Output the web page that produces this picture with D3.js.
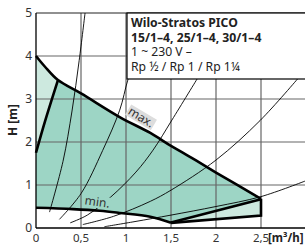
<!DOCTYPE html>
<html>
<head>
<meta charset="utf-8">
<script src="https://cdn.jsdelivr.net/npm/d3@7"></script>
<style>
  html, body { margin: 0; padding: 0; background: #fff; }
  svg { display: block; font-family: "Noto Sans", sans-serif; }
</style>
</head>
<body>
<div id="chart"></div>
<script>
// pump curve field, Q in m3/h, H in m
const qTicks = [0, 0.5, 1, 1.5, 2, 2.5];
const qLabels = ["0", "0,5", "1", "1,5", "2", "2,5"];
const hTicks = [0, 1, 2, 3, 4, 5];

const maxCurve = [[0, 4.0], [0.1, 3.75], [0.244, 3.44], [0.5, 3.13], [0.93, 2.58], [1.27, 2.21],
                  [1.5, 1.91], [1.73, 1.63], [2.0, 1.29], [2.5, 0.68]];
const outerBottom = [[2.5, 0.68], [2.5, 0.29], [1.5, 0.12]];
const minCurve = [[1.5, 0.12], [1.27, 0.26], [0.93, 0.35], [0.71, 0.4], [0.41, 0.44], [0, 0.47]];
const innerLeft = [[0, 1.75], [0.1, 2.48], [0.244, 3.44]];
const innerBottom = [[2.5, 0.67], [1.5, 0.13]];

// system curves (thin)
const sys1 = [[0.15, 0.37], [0.3, 1.55], [0.4, 2.72], [0.48, 3.9], [0.545, 5.0]];
const sys2 = [[0.26, 0.2], [0.5, 0.8], [0.74, 1.8], [0.93, 2.74], [1.02, 3.44], [1.1, 3.9]];
const sys3 = [[0.38, 0.12], [0.57, 0.3], [0.83, 0.72], [1.11, 1.3], [1.3, 1.81], [1.51, 2.51], [1.8, 3.5]];
const sys4 = [[0.52, 0.08], [0.86, 0.27], [1.27, 0.62], [1.5, 0.88], [2.0, 1.58], [2.49, 2.5], [2.92, 3.5]];
const sys5 = [[0.76, 0.03], [1.1, 0.15], [1.5, 0.3], [2.0, 0.5], [2.5, 0.73], [3.0, 1.1]];

const legendLines = ["Wilo-Stratos PICO", "15/1–4, 25/1–4, 30/1–4", "1 ~ 230 V –", "Rp ½ / Rp 1 / Rp 1¼"];

const width = 305, height = 246;
const svg = d3.select("#chart").append("svg").attr("width", width).attr("height", height);

const x = d3.scaleLinear().domain([0, 3]).range([36, 306]);
const y = d3.scaleLinear().domain([0, 5]).range([228, 13]);

const line = d3.line().x(d => x(d[0])).y(d => y(d[1]));
const smooth = d3.line().x(d => x(d[0])).y(d => y(d[1])).curve(d3.curveCatmullRom);

const plot = svg.append("g");
plot.append("clipPath").attr("id", "clip").append("rect")
    .attr("x", x(0)).attr("y", y(5)).attr("width", x(3) - x(0)).attr("height", y(0) - y(5));

// light envelope
const outer = maxCurve.concat(outerBottom.slice(1), minCurve.slice(1));
plot.append("path").attr("d", line(outer) + "Z").attr("fill", "#cde9df");

// darker working area
const inner = innerLeft.concat(maxCurve.filter(d => d[0] > 0.244), innerBottom.slice(1), minCurve.slice(1));
plot.append("path").attr("d", line(inner) + "Z").attr("fill", "#9dd5c5");

// grid
plot.append("g").selectAll("line").data(qTicks.slice(1)).join("line")
    .attr("x1", d => x(d)).attr("x2", d => x(d)).attr("y1", y(0)).attr("y2", y(5))
    .attr("stroke", "#666").attr("stroke-width", 1.2);
plot.append("g").selectAll("line").data(hTicks.slice(1)).join("line")
    .attr("x1", x(0)).attr("x2", width).attr("y1", d => y(d)).attr("y2", d => y(d))
    .attr("stroke", d => d === 5 ? "#222" : "#666").attr("stroke-width", 1.2);

// system curves
const curves = plot.append("g").attr("clip-path", "url(#clip)");
[sys1, sys2, sys3, sys4, sys5].forEach(c => {
    curves.append("path").attr("d", smooth(c)).attr("fill", "none")
        .attr("stroke", "#000").attr("stroke-width", 0.9);
});

// labels on limits
const minG = plot.append("g").attr("transform", "translate(97,204) rotate(8)");
minG.append("rect").attr("x", -14).attr("y", -8).attr("width", 28).attr("height", 12).attr("fill", "#9dd5c5");
minG.append("text").attr("text-anchor", "middle").attr("y", 2).attr("font-size", 12)
    .attr("fill", "#333").text("min.");

const maxG = plot.append("g").attr("transform", "translate(140,119) rotate(31)");
maxG.append("rect").attr("x", -15).attr("y", -8).attr("width", 30).attr("height", 12).attr("fill", "#ddd");
maxG.append("text").attr("text-anchor", "middle").attr("y", 2).attr("font-size", 12)
    .attr("fill", "#333").text("max.");

// thick limit lines
const thick = plot.append("g").attr("fill", "none").attr("stroke", "#000")
    .attr("stroke-width", 2.6).attr("stroke-linejoin", "miter");
thick.append("path").attr("d", smooth(maxCurve));
thick.append("path").attr("d", line(outerBottom));
thick.append("path").attr("d", smooth(minCurve));
thick.append("path").attr("d", smooth(innerLeft));
thick.append("path").attr("d", line(innerBottom));

// axes
svg.append("line").attr("x1", x(0)).attr("x2", x(0)).attr("y1", y(0)).attr("y2", y(5))
    .attr("stroke", "#000").attr("stroke-width", 1.3);
svg.append("line").attr("x1", x(0)).attr("x2", width).attr("y1", y(0)).attr("y2", y(0))
    .attr("stroke", "#000").attr("stroke-width", 1.3);

svg.append("g").selectAll("text").data(hTicks).join("text")
    .attr("x", 32).attr("y", d => y(d) + 4).attr("text-anchor", "end")
    .attr("font-size", 12).attr("fill", "#333").text(d => d);
svg.append("g").selectAll("text").data(qTicks).join("text")
    .attr("x", d => x(d)).attr("y", 242).attr("text-anchor", "middle")
    .attr("font-size", 11.5).attr("fill", "#333").text((d, i) => qLabels[i]);
svg.append("text").attr("x", 268).attr("y", 242).attr("font-size", 11.5)
    .attr("font-weight", "bold").attr("fill", "#222").text("[m³/h]");
svg.append("text").attr("transform", "translate(17,120) rotate(-90)")
    .attr("text-anchor", "middle").attr("font-size", 12).attr("font-weight", "bold")
    .attr("fill", "#222").text("H [m]");

// legend box
const lg = svg.append("g");
lg.append("rect").attr("x", 127).attr("y", 13).attr("width", 190).attr("height", 66)
    .attr("fill", "#fff").attr("stroke", "#000").attr("stroke-width", 1.2);
lg.selectAll("text").data(legendLines).join("text")
    .attr("x", 131).attr("y", (d, i) => 27 + i * 14.6)
    .attr("font-size", 12.2).attr("font-weight", (d, i) => i < 2 ? "bold" : "normal")
    .attr("fill", "#222").text(d => d);
</script>
</body>
</html>
